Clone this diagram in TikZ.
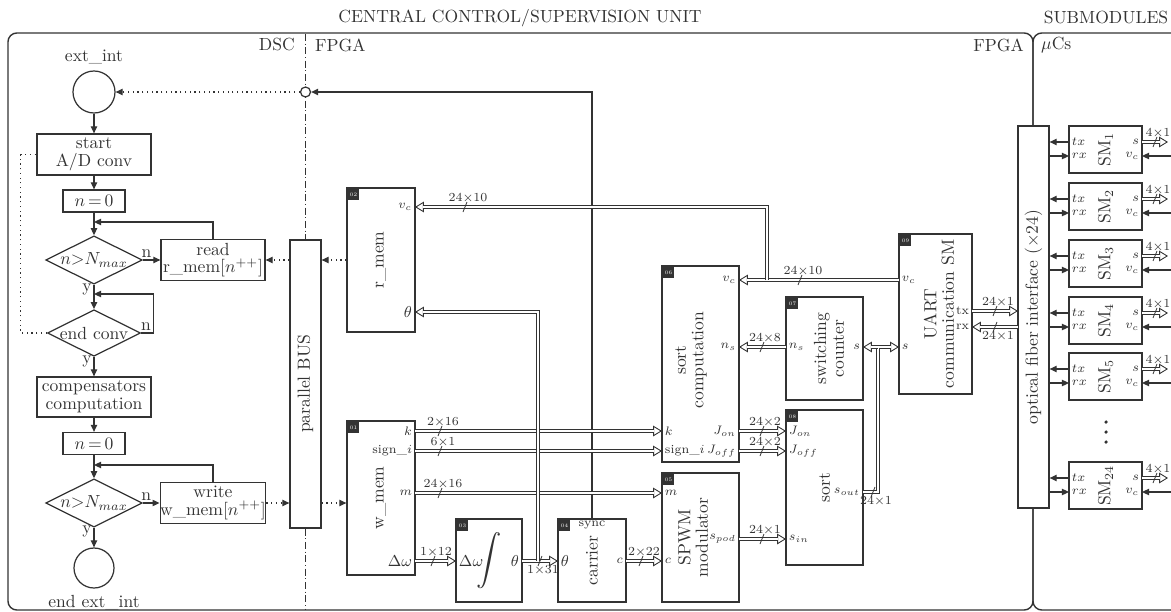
\documentclass[tikz,border=0pt]{standalone}
\usepackage{amsmath}
\usetikzlibrary{arrows.meta,positioning,shapes.geometric,calc}
\definecolor{inkGray}{HTML}{333333}
\tikzset{
  pics/wdu/.style={code={\draw[line width=.45pt] (-2,5) -- (2,-5); \node[bwl, above=0pt] at (3,-3) {#1};}},
  pics/wdd/.style={code={\draw[line width=.45pt] (-2,5) -- (2,-5); \node[bwl, below=0pt] at (3,3) {#1};}}
}
\begin{document}
\begin{tikzpicture}[x=0.02cm, y=-0.02cm, color=inkGray,
  blk/.style={draw, line width=.7pt, inner sep=0pt},
  fbox/.style={blk, align=center, font=\fontsize{10}{10}\selectfont},
  cond/.style={blk, diamond, aspect=2, minimum width=1.84cm, minimum height=0.9cm},
  term/.style={blk, circle},
  vt/.style={rotate=90, align=center, font=\fontsize{10}{10}\selectfont},
  port/.style={font=\scriptsize, inner sep=1.5pt},
  bport/.style={font=\small, inner sep=1.5pt},
  tag/.style={fill=inkGray, text=white, font=\fontsize{3}{3}\selectfont, inner sep=0.6pt, minimum size=6pt, anchor=north west},
  bwl/.style={font=\scriptsize, inner sep=0.5pt},
  yn/.style={inner sep=1pt},
  sarr/.style={line width=.7pt, -{Triangle[length=4pt, width=3.6pt]}},
  dotl/.style={line width=.7pt, dotted},
  dot/.style={sarr, dotted},
  ddline/.style={line width=.6pt, dash pattern=on 4pt off 1.5pt on .6pt off 1.5pt},
  dbl/.style={line width=2.6pt, -{Triangle[length=5pt, width=6pt, line width=.5pt, fill=white]},
    postaction={draw=white, line width=1.6pt, -, shorten >=4.6pt}},
  frame/.style={line width=.8pt, rounded corners=5pt}
]
\useasboundingbox (0,0) rectangle (1171,612);
\clip (0,0) rectangle (1171,612);

\node (ttl) at (520,18) {CENTRAL CONTROL/SUPERVISION UNIT};
\node (subm) at (1106,18) {SUBMODULES};
\draw[frame] (8,33) rectangle (1033,610);
\draw[frame] (1033,33) rectangle (1220,610);
\node[anchor=east] (dsc) at (301,45) {DSC};
\node[anchor=west] (fpl) at (309,45) {FPGA};
\node[anchor=east] (fpr) at (1030,45) {FPGA};
\node[anchor=west] (uc) at (1035,45) {$\mu$Cs};

\node[term, minimum size=0.84cm, label={above:ext\_int}] (ext) at (94,92) {};
\node[fbox, minimum width=2.28cm, minimum height=0.82cm] (st) at (94,154.5) {start\\A/D conv};
\node[fbox, minimum width=1.24cm, minimum height=0.44cm] (n0a) at (94,201) {$n\,{=}\,0$};
\node[cond] (d1) at (94,260) {$n{>}N_{max}$};
\node[fbox, minimum width=2.08cm, minimum height=0.82cm] (rd) at (213,260) {read\\r\_mem[$n^{++}$]};
\node[cond] (d2) at (94,333) {end conv};
\node[fbox, minimum width=2.28cm, minimum height=0.8cm] (cp) at (94,397) {compensators\\computation};
\node[fbox, minimum width=1.24cm, minimum height=0.44cm] (n0b) at (94,443.5) {$n\,{=}\,0$};
\node[cond] (d3) at (94,503) {$n{>}N_{max}$};
\node[fbox, minimum width=2.08cm, minimum height=0.82cm] (wr) at (213,503) {write\\w\_mem[$n^{++}$]};
\node[term, minimum size=0.8cm, label={below:end ext\_int}] (fin) at (94,568) {};

\coordinate (m1) at (94,222);
\coordinate (m2) at (94,294);
\coordinate (m3) at (94,465);
\draw[sarr] (ext) -- (st);
\draw[sarr] (st) -- (n0a);
\draw[sarr] (n0a) -- (d1);
\draw[sarr] (d1) -- node[yn, above, pos=.2] (ln1) {n} (rd);
\draw[sarr] (rd.north) |- (m1);
\draw[sarr] (d1) -- node[yn, left, pos=.2] (ly1) {y} (d2);
\draw[sarr] (d2.east) -- node[yn, above, pos=.4] (ln2) {n} ++(12,0) |- (m2);
\draw[dotl] (d2.west) -- ++(-26,0) |- (st.west);
\draw[sarr] (d2) -- node[yn, left, pos=.25] (ly2) {y} (cp);
\draw[sarr] (cp) -- (n0b);
\draw[sarr] (n0b) -- (d3);
\draw[sarr] (d3) -- node[yn, above, pos=.2] (ln3) {n} (wr);
\draw[sarr] (wr.north) |- (m3);
\draw[sarr] (d3) -- node[yn, left, pos=.2] (ly3) {y} (fin);

\node[blk, minimum width=0.62cm, minimum height=5.76cm, label={[vt]center:parallel BUS}] (bus) at (305.5,384) {};
\draw[ddline] (305.5,34) -- (bus.north);
\draw[ddline] (bus.south) -- (305.5,610);

\node[blk, minimum width=1.36cm, minimum height=2.88cm, label={[vt]center:r\_mem}] (rm) at (381,260) {};
\node[blk, minimum width=1.36cm, minimum height=3.08cm, label={[vt]center:w\_mem}] (wm) at (381,498) {};
\node[blk, minimum width=1.32cm, minimum height=1.66cm, label={[font=\Large]center:$\displaystyle\int$}] (it) at (489,560.5) {};
\node[blk, minimum width=1.36cm, minimum height=1.66cm, label={[vt]center:carrier}] (ca) at (592,560.5) {};
\node[blk, minimum width=1.54cm, minimum height=3.92cm] (sc) at (700.5,364) {};
\node[blk, minimum width=1.54cm, minimum height=2.58cm] (sp) at (700.5,537.5) {};
\node[blk, minimum width=1.54cm, minimum height=2.06cm] (sw) at (824.5,348.5) {};
\node[blk, minimum width=1.54cm, minimum height=3.10cm, label={[vt]center:sort}] (so) at (824.5,487.5) {};
\node[blk, minimum width=1.46cm, minimum height=3.2cm] (ua) at (935.5,314) {};
\node[vt] (sc-t) at (691,360) {sort\\computation};
\node[vt] (sp-t) at (693,537.5) {SPWM\\modulator};
\node[vt] (sw-t) at (829,348.5) {switching\\counter};
\node[vt] (ua-t) at (939,314) {UART\\communication SM};
\node[blk, fill=white, minimum width=0.62cm, minimum height=7.64cm, label={[vt]center:optical fiber interface ($\times$24)}] (fb) at (1033.5,317) {};
\foreach \b/\n in {wm/01, rm/02, it/03, ca/04, sp/05, sc/06, sw/07, so/08, ua/09}
  \node[tag] (tag-\b) at ([shift={(1.5,1.5)}]\b.north west) {\n};

\node[blk, circle, fill=white, minimum size=0.2cm] (jc) at (305.5,92) {};
\draw[dot] (jc) -- (ext);
\draw[dot] (rm.west) -- (bus.east |- rm.west);
\draw[dot] (bus.west |- rd.east) -- (rd.east);
\draw[dot] (wr.east) -- (bus.west |- wr.east);
\draw[dot] (bus.east |- wr.east) -- (wm.west |- wr.east);

\coordinate[label={[port]left:$v_c$}] (rm-vc) at (415,207);
\coordinate[label={[bport]left:$\theta$}] (rm-th) at (415,312);
\coordinate[label={[port]left:$k$}] (wm-k) at (415,431);
\coordinate[label={[port]left:sign\_$i$}] (wm-si) at (415,451);
\coordinate[label={[port]left:$m$}] (wm-m) at (415,493);
\coordinate[label={[bport]left:$\Delta\omega$}] (wm-dw) at (415,561);
\coordinate[label={[bport]right:$\Delta\omega$}] (it-dw) at (456,561);
\coordinate[label={[bport]left:$\theta$}] (it-th) at (522,561);
\coordinate[label={[bport]right:$\theta$}] (ca-th) at (558,561);
\coordinate[label={[port]left:$c$}] (ca-c) at (626,561);
\coordinate[label={[port]below:sync}] (ca-sy) at (ca.north);
\coordinate[label={[port]left:$v_c$}] (sc-vc) at (739,280);
\coordinate[label={[port]left:$n_s$}] (sc-ns) at (739,347);
\coordinate[label={[port]right:$k$}] (sc-k) at (662,431);
\coordinate[label={[port]right:sign\_$i$}] (sc-si) at (662,451);
\coordinate[label={[port]left:$J_{on}$}] (sc-jon) at (739,431);
\coordinate[label={[port]left:$J_{off}$}] (sc-jof) at (739,451);
\coordinate[label={[port]right:$m$}] (sp-m) at (662,493);
\coordinate[label={[port]right:$c$}] (sp-c) at (662,561);
\coordinate[label={[port]left:$s_{pod}$}] (sp-s) at (739,539);
\coordinate[label={[port]right:$n_s$}] (sw-ns) at (786,347);
\coordinate[label={[port]left:$s$}] (sw-s) at (863,347);
\coordinate[label={[port]right:$J_{on}$}] (so-jon) at (786,431);
\coordinate[label={[port]right:$J_{off}$}] (so-jof) at (786,451);
\coordinate[label={[port]right:$s_{in}$}] (so-in) at (786,539);
\coordinate[label={[port]left:$s_{out}$}] (so-out) at (863,492);
\coordinate[label={[port]right:$v_c$}] (ua-vc) at (899,280);
\coordinate[label={[port]right:$s$}] (ua-s) at (899,347);
\coordinate[label={[port]left:tx}] (ua-tx) at (972,311);
\coordinate[label={[port]left:rx}] (ua-rx) at (972,327);
\coordinate (fb-tx) at (1018,311);
\coordinate (fb-rx) at (1018,327);
\coordinate (vj) at (767,280);
\coordinate (tj) at (538,561);
\coordinate (sj) at (878,347);

\draw[sarr] (ca-sy) |- (jc.east);
\draw[dbl] (ua-vc) -- (sc-vc);
\draw[dbl] (vj) |- (rm-vc);
\draw[dbl] (wm-k) -- (sc-k);
\draw[dbl] (wm-si) -- (sc-si);
\draw[dbl] (wm-m) -- (sp-m);
\draw[dbl] (wm-dw) -- (it-dw);
\draw[dbl] (it-th) -- (ca-th);
\draw[dbl] (tj) |- (rm-th);
\draw[dbl] (ca-c) -- (sp-c);
\draw[dbl] (sw-ns) -- (sc-ns);
\draw[dbl] (sc-jon) -- (so-jon);
\draw[dbl] (sc-jof) -- (so-jof);
\draw[dbl] (sp-s) -- (so-in);
\draw[dbl] (so-out) -| (sj) -- (ua-s);
\draw[dbl] (sj) -- (sw-s);
\draw[dbl] (ua-tx) -- (fb-tx);
\draw[dbl] (fb-rx) -- (ua-rx);

\pic at (465,207) {wdu=24$\times$10};
\pic at (800,280) {wdu=24$\times$10};
\pic at (440,431) {wdu=2$\times$16};
\pic at (440,451) {wdu=6$\times$1};
\pic at (440,493) {wdu=24$\times$16};
\pic at (433,561) {wdu=1$\times$12};
\pic at (540,561) {wdd=1$\times$31};
\pic at (641,561) {wdu=2$\times$22};
\pic at (762,347) {wdu=24$\times$8};
\pic at (762,431) {wdu=24$\times$2};
\pic at (762,451) {wdu=24$\times$2};
\pic at (762,539) {wdu=24$\times$1};
\pic at (873,492) {wdd=24$\times$1};
\pic at (995,311) {wdu=24$\times$1};
\pic at (995,327) {wdd=24$\times$1};

\foreach \i/\t in {1/126, 2/183, 3/240, 4/297, 5/353, 24/462} {
  \node[blk, minimum width=1.46cm, minimum height=0.94cm, label={[vt]center:SM$_{\i}$}] (sm\i) at (1105.5,\t+23.5) {};
  \coordinate[label={[port]right:$tx$}] (sm\i-tx) at (1069,\t+16);
  \coordinate[label={[port]right:$rx$}] (sm\i-rx) at (1069,\t+30);
  \coordinate[label={[port]left:$s$}] (sm\i-s) at (1142,\t+16);
  \coordinate[label={[port]left:$v_c$}] (sm\i-vc) at (1142,\t+30);
  \coordinate (sm\i-so) at (1168,\t+16);
  \coordinate (sm\i-vi) at (1180,\t+30);
  \draw[sarr] (sm\i-tx) -- (fb.east |- sm\i-tx);
  \draw[sarr] (fb.east |- sm\i-rx) -- (sm\i-rx);
  \draw[dbl] (sm\i-s) -- (sm\i-so);
  \draw[sarr] (sm\i-vi) -- (sm\i-vc);
  \pic at (1155,\t+16) {wdu=4$\times$1};
}
\foreach \k in {422,432,442}
  \fill (1106,\k) circle (1pt);
\end{tikzpicture}
\end{document}
